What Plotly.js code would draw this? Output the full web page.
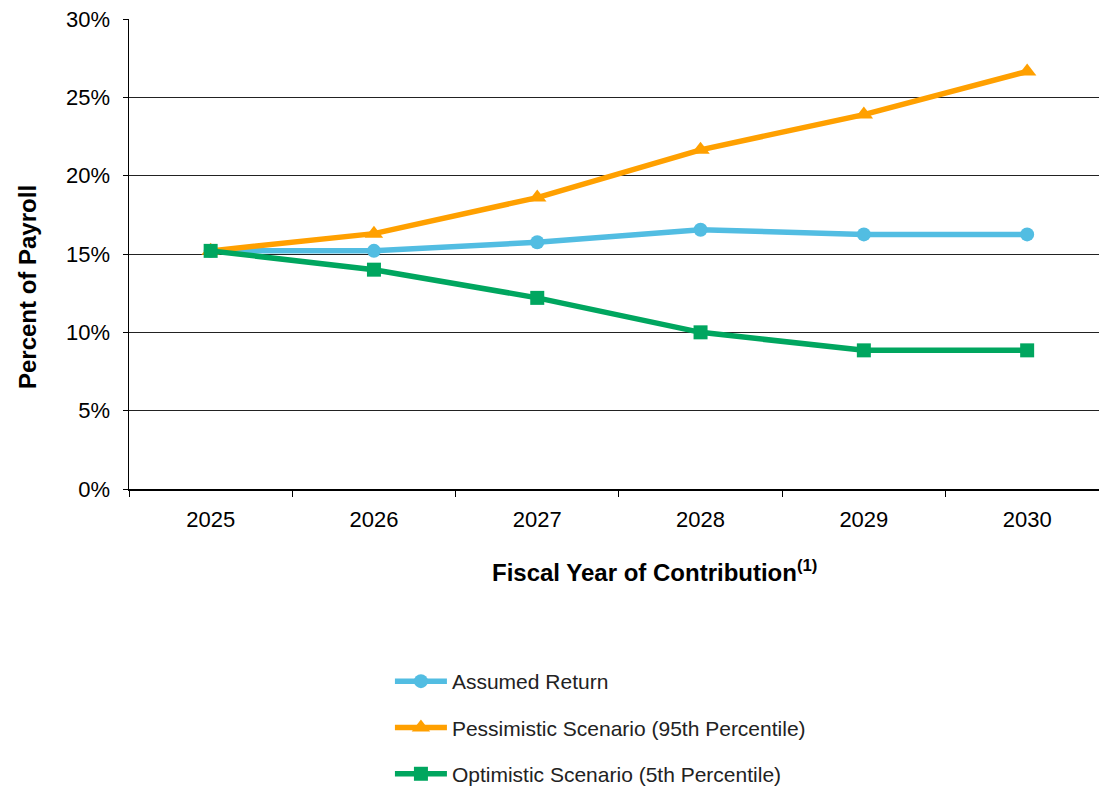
<!DOCTYPE html>
<html>
<head>
<meta charset="utf-8">
<script src="https://cdn.plot.ly/plotly-3.0.1.min.js"></script>
<style>html,body{margin:0;padding:0;background:#fff;overflow:hidden;}#chart{width:1099px;height:788px;overflow:hidden;}</style>
</head>
<body>
<div id="chart"></div>
<script>
const years = ['2025', '2026', '2027', '2028', '2029', '2030'];
const assumedReturn = [15.2, 15.2, 15.75, 16.55, 16.25, 16.25];
const pessimistic = [15.2, 16.3, 18.6, 21.65, 23.9, 26.65];
const optimistic = [15.2, 14.0, 12.2, 10.0, 8.85, 8.85];
const seriesNames = ['Assumed Return', 'Pessimistic Scenario (95th Percentile)', 'Optimistic Scenario (5th Percentile)'];
const yTicks = [0, 5, 10, 15, 20, 25, 30];
const yTitle = 'Percent of Payroll';
const xTitle = 'Fiscal Year of Contribution';

const font = 'Liberation Sans, Arial, sans-serif';
const traces = [
  {x: years, y: assumedReturn, name: seriesNames[0], legendgroup: 'a', type: 'scatter', mode: 'lines+markers',
   line: {color: '#52BDE2', width: 5.5}, marker: {symbol: 'circle', size: 14, color: '#52BDE2'}, cliponaxis: false},
  {x: years, y: pessimistic, name: seriesNames[1], legendgroup: 'b', type: 'scatter', mode: 'lines+markers',
   line: {color: '#FFA000', width: 5.5}, marker: {symbol: 'triangle-up', size: 16, color: '#FFA000'}, cliponaxis: false},
  {x: years, y: optimistic, name: seriesNames[2], legendgroup: 'c', type: 'scatter', mode: 'lines+markers',
   line: {color: '#00A65F', width: 5.5}, marker: {symbol: 'square', size: 14, color: '#00A65F'}, cliponaxis: false}
];

const layout = {
  width: 1099, height: 810,
  margin: {l: 129, r: 0, t: 19, b: 321},
  paper_bgcolor: '#fff', plot_bgcolor: '#fff',
  font: {family: font, color: '#000', size: 22},
  showlegend: true,
  legend: {x: 0.269, y: -0.366, xanchor: 'left', yanchor: 'top', orientation: 'v', itemwidth: 52,
           traceorder: 'grouped', tracegroupgap: 16, font: {size: 21, color: '#222'}, bgcolor: 'rgba(0,0,0,0)'},
  xaxis: {type: 'category', range: [-0.5, 5.44], tickson: 'boundaries', ticks: 'outside', ticklen: 6,
          tickcolor: '#000', showline: true, linecolor: '#000', linewidth: 1.5, showgrid: false, zeroline: false,
          tickfont: {size: 22}, ticklabelstandoff: 10, fixedrange: true},
  yaxis: {range: [0, 30], tickvals: yTicks, ticktext: yTicks.map(v => v + '%'), ticks: 'outside', ticklen: 5,
          tickcolor: '#000', showline: true, linecolor: '#000', linewidth: 1.5, showgrid: true,
          gridcolor: '#222', gridwidth: 1, zeroline: false, tickfont: {size: 22}, ticklabelstandoff: 8},
  annotations: [
    {text: '<b>' + yTitle + '</b>', xref: 'paper', yref: 'paper', textangle: -90,
     x: -0.104, y: 0.43, xanchor: 'center', yanchor: 'middle', showarrow: false, font: {size: 24}},
    {text: '<b>' + xTitle + '<sup>(1)</sup></b>', xref: 'paper', yref: 'paper',
     x: 0.542, y: -0.174, xanchor: 'center', yanchor: 'middle', showarrow: false, font: {size: 24}}
  ]
};

Plotly.newPlot('chart', traces, layout, {displayModeBar: false, staticPlot: true});
</script>
</body>
</html>
